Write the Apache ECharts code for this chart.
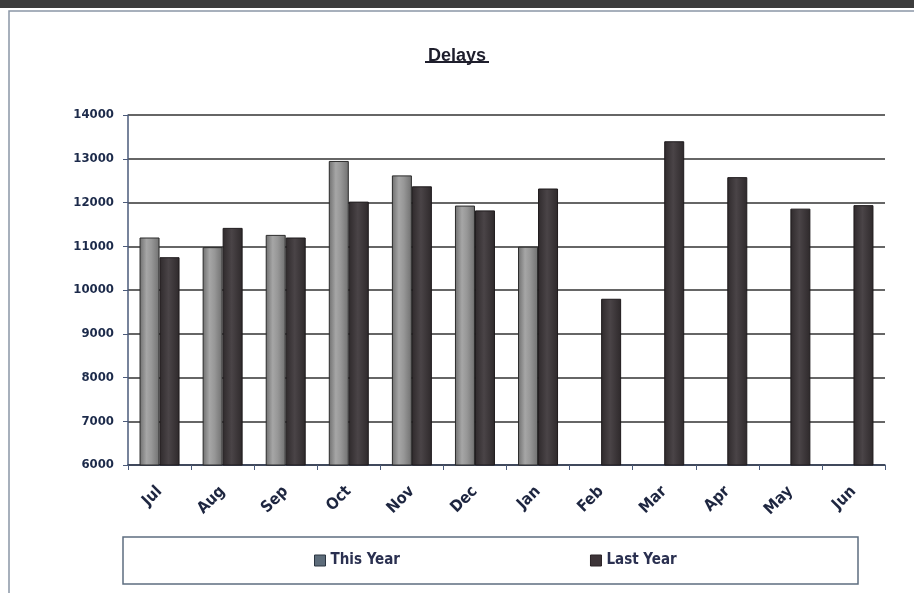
<!DOCTYPE html>
<html>
<head>
<meta charset="utf-8">
<script src="https://cdn.jsdelivr.net/npm/echarts@6/dist/echarts.min.js"></script>
<style>
html,body{margin:0;padding:0;background:#fff;}
#chart{width:914px;height:593px;}
</style>
</head>
<body>
<div id="chart"></div>
<script>
var categories = ['Jul','Aug','Sep','Oct','Nov','Dec','Jan','Feb','Mar','Apr','May','Jun'];
var thisYear = [11200, 10980, 11260, 12950, 12620, 11930, 10990, null, null, null, null, null];
var lastYear = [10750, 11420, 11200, 12020, 12370, 11820, 12320, 9800, 13400, 12580, 11860, 11940];
var yTicks = { min: 6000, max: 14000, interval: 1000 };
var seriesNames = ['This Year', 'Last Year'];
var titleText = 'Delays';

var chart = echarts.init(document.getElementById('chart'), null, {renderer: 'canvas'});

var grayGrad = new echarts.graphic.LinearGradient(0, 0, 1, 0, [
  {offset: 0, color: '#6e6e6e'},
  {offset: 0.35, color: '#a6a6a6'},
  {offset: 0.6, color: '#979797'},
  {offset: 1, color: '#707070'}
]);
var darkGrad = new echarts.graphic.LinearGradient(0, 0, 1, 0, [
  {offset: 0, color: '#2f2a2c'},
  {offset: 0.45, color: '#4a4447'},
  {offset: 1, color: '#2e292b'}
]);

var option = {
  backgroundColor: '#ffffff',
  animation: false,
  title: {
    text: titleText,
    left: 'center',
    top: 42,
    textStyle: {fontFamily: 'Liberation Sans, Arial', fontWeight: 'bold', fontSize: 18, color: '#1e1e2c'}
  },
  graphic: [
    {type: 'rect', shape: {x: 0, y: 0, width: 914, height: 8}, style: {fill: '#3c3c3c'}, z: 0},
    {type: 'rect', shape: {x: 9, y: 11, width: 910, height: 590}, style: {fill: 'none', stroke: '#8a96a6', lineWidth: 1.5}, z: 0},
    {type: 'line', shape: {x1: 425, y1: 62, x2: 489, y2: 62}, style: {stroke: '#1e1e2c', lineWidth: 2}, z: 5},
    {type: 'rect', shape: {x: 123, y: 537, width: 735, height: 47}, style: {fill: 'none', stroke: '#5e6e80', lineWidth: 1.5}, z: 0}
  ],
  legend: {
    left: 309,
    top: 548,
    icon: 'rect',
    itemWidth: 11,
    itemHeight: 11,
    itemGap: 190,
    textStyle: {fontFamily: 'DejaVu Sans Condensed', fontWeight: 'bold', fontSize: 15, color: '#2a3050'},
    data: [
      {name: seriesNames[0], itemStyle: {color: '#5d6c7a', borderColor: '#2a3440', borderWidth: 1}},
      {name: seriesNames[1], itemStyle: {color: '#3d3438', borderColor: '#2a2226', borderWidth: 1}}
    ]
  },
  grid: {left: 128, right: 29, top: 115, bottom: 128},
  xAxis: {
    type: 'category',
    data: categories,
    axisLine: {lineStyle: {color: '#34405a', width: 1.5}},
    axisTick: {show: true, length: 5, lineStyle: {color: '#4a5a7a'}},
    axisLabel: {
      rotate: 45,
      margin: 24,
      fontFamily: 'DejaVu Sans Condensed',
      fontWeight: 'bold',
      fontSize: 16,
      color: '#1e2640'
    }
  },
  yAxis: {
    type: 'value',
    min: yTicks.min,
    max: yTicks.max,
    interval: yTicks.interval,
    axisLine: {show: true, lineStyle: {color: '#4a5a7a', width: 1.5}},
    axisTick: {show: true, length: 5, lineStyle: {color: '#4a5a7a'}},
    splitLine: {lineStyle: {color: '#666666', width: 2}},
    axisLabel: {
      margin: 14,
      fontFamily: 'DejaVu Sans Condensed',
      fontWeight: 'bold',
      fontSize: 13,
      color: '#1c2a4a',
      formatter: function (v) { return String(v); }
    }
  },
  series: [
    {
      name: seriesNames[0],
      type: 'bar',
      data: thisYear,
      barWidth: 20,
      barGap: '0%',
      itemStyle: {color: grayGrad, borderColor: '#2a2a2a', borderWidth: 1}
    },
    {
      name: seriesNames[1],
      type: 'bar',
      data: lastYear,
      barWidth: 20,
      barGap: '0%',
      itemStyle: {color: darkGrad, borderColor: '#1e1a1c', borderWidth: 1}
    }
  ]
};
chart.setOption(option);
</script>
</body>
</html>
